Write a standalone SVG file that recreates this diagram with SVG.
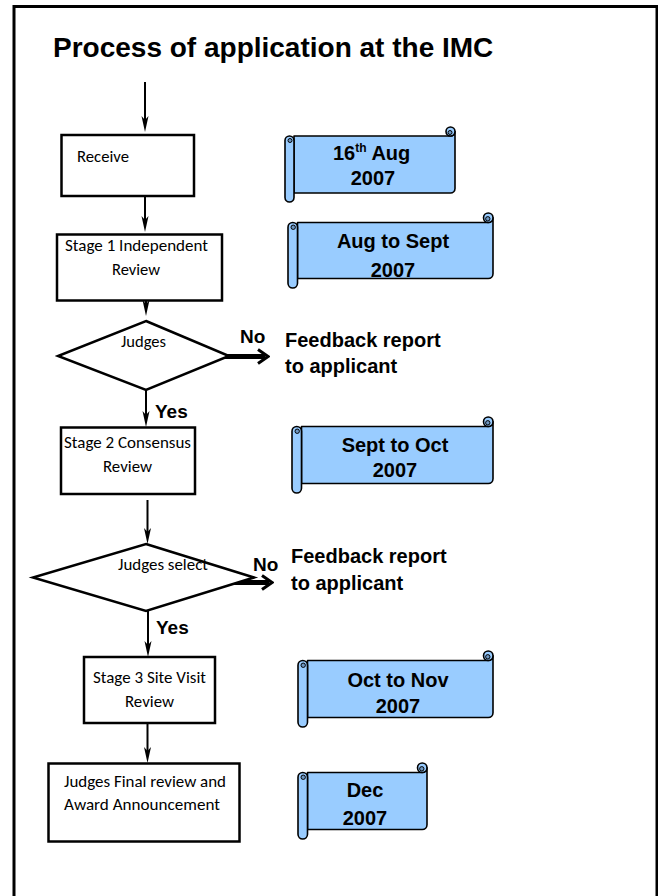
<svg xmlns="http://www.w3.org/2000/svg" width="658" height="896" viewBox="0 0 658 896">
<style>
.frame{fill:none;stroke:#000;stroke-width:3}
.box{fill:#fff;stroke:#000;stroke-width:2.5}
.dia{fill:#fff;stroke:#000;stroke-width:2.5;stroke-linejoin:miter}
.bt{font-family:Carlito,Lato,"Liberation Sans",sans-serif;font-size:16.5px;fill:#000}
.title{font-family:"Liberation Sans",Arial,sans-serif;font-weight:bold;font-size:28px;fill:#000}
.st{font-family:"Liberation Sans",Arial,sans-serif;font-weight:bold;font-size:20px;fill:#000;text-anchor:middle}
.fb{font-family:"Liberation Sans",Arial,sans-serif;font-weight:bold;font-size:20px;fill:#000}
.yn{font-family:"Liberation Sans",Arial,sans-serif;font-weight:bold;font-size:19px;fill:#000}
.scr{fill:#99ccff;stroke:#000;stroke-width:1.6;stroke-linejoin:round}
.curl{fill:#6f97c2;stroke:#000;stroke-width:1}
.thin{fill:none;stroke:#000;stroke-width:2;marker-end:url(#stealth)}
.thick{fill:none;stroke:#000;stroke-width:5;marker-end:url(#open)}
</style>
<defs>
<marker id="stealth" markerUnits="userSpaceOnUse" orient="auto" viewBox="-17 -5 18 10" markerWidth="18" markerHeight="10" refX="-10" refY="0">
<path d="M0 0 L-16 -3.5 L-12 0 L-16 3.5 Z" fill="#000"/>
</marker>
<marker id="open" markerUnits="userSpaceOnUse" orient="auto" viewBox="-13 -10 15 20" markerWidth="15" markerHeight="20" refX="-3" refY="0">
<path d="M-10 -7 L0 0 L-10 7" fill="none" stroke="#000" stroke-width="3"/>
</marker>
</defs>
<rect width="658" height="896" fill="#fff"/>
<rect class="frame" x="14" y="6.5" width="643" height="1000"/>
<text class="title" x="53" y="56.5">Process of application at the IMC</text>

<g id="connectors">
<line class="thin" x1="145" y1="82" x2="145" y2="122"/>
<line class="thin" x1="145" y1="196" x2="145" y2="222"/>
<line class="thin" x1="146" y1="298" x2="146" y2="306"/>
<line class="thin" x1="146" y1="390" x2="146" y2="417"/>
<line class="thin" x1="147.5" y1="500" x2="147.5" y2="534"/>
<line class="thin" x1="148" y1="611" x2="148" y2="647"/>
<line class="thin" x1="147.5" y1="723" x2="147.5" y2="753"/>
<line class="thick" x1="210" y1="356.5" x2="265" y2="356.5"/>
<line class="thick" x1="215" y1="582.5" x2="269" y2="582.5"/>
<text class="yn" x="240" y="343">No</text>
<text class="yn" x="155" y="418">Yes</text>
<text class="yn" x="253" y="571">No</text>
<text class="yn" x="156" y="634">Yes</text>
</g>

<g id="receive">
<rect class="box" x="61.5" y="135" width="132.5" height="61"/>
<text class="bt" x="77" y="162" textLength="52" lengthAdjust="spacingAndGlyphs">Receive</text>
</g>
<g id="stage1">
<rect class="box" x="57" y="234.5" width="165" height="66"/>
<text class="bt" x="65" y="251" textLength="143" lengthAdjust="spacingAndGlyphs">Stage 1 Independent</text>
<text class="bt" x="112" y="275" textLength="48" lengthAdjust="spacingAndGlyphs">Review</text>
</g>
<g id="judges1">
<polygon class="dia" points="146,321 229,356 146,390 58,356"/>
<text class="bt" x="121" y="346.5" textLength="45" lengthAdjust="spacingAndGlyphs">Judges</text>
</g>
<g id="feedback1">
<text class="fb" x="285" y="346.5">Feedback report</text>
<text class="fb" x="285" y="373">to applicant</text>
</g>
<g id="stage2">
<rect class="box" x="61" y="427.5" width="134" height="66.5"/>
<text class="bt" x="64" y="448" textLength="127" lengthAdjust="spacingAndGlyphs">Stage 2 Consensus</text>
<text class="bt" x="103" y="472" textLength="49" lengthAdjust="spacingAndGlyphs">Review</text>
</g>
<g id="judges2">
<polygon class="dia" points="146,544 254,577.5 146,611 33,577.5"/>
<text class="bt" x="118" y="570" textLength="90" lengthAdjust="spacingAndGlyphs">Judges select</text>
</g>
<g id="feedback2">
<text class="fb" x="291" y="563">Feedback report</text>
<text class="fb" x="291" y="590">to applicant</text>
</g>
<g id="stage3">
<rect class="box" x="84" y="657" width="131" height="66"/>
<text class="bt" x="93" y="683" textLength="113" lengthAdjust="spacingAndGlyphs">Stage 3 Site Visit</text>
<text class="bt" x="125" y="706.5" textLength="49" lengthAdjust="spacingAndGlyphs">Review</text>
</g>
<g id="final">
<rect class="box" x="48.5" y="763.5" width="191" height="78"/>
<text class="bt" x="64" y="786.5" textLength="162" lengthAdjust="spacingAndGlyphs">Judges Final review and</text>
<text class="bt" x="64" y="810" textLength="156" lengthAdjust="spacingAndGlyphs">Award Announcement</text>
</g>

<g id="scroll1">
<path class="scr" d="M294,136 H450.5 A4.5,4.5 0 0 0 455,131.5 V188.5 A4.5,4.5 0 0 1 450.5,193 H294 Z"/>
<circle class="scr" cx="450.5" cy="131.5" r="4.5"/>
<circle class="curl" cx="450" cy="132.5" r="2"/>
<path class="scr" d="M285,140.5 V197.5 A4.5,4.5 0 0 0 294,197.5 V140.5 A4.5,4.5 0 0 0 285,140.5 Z"/>
<circle class="curl" cx="290" cy="140.5" r="2"/>
<text class="fb" x="333" y="160">16<tspan font-size="12" dy="-8">th</tspan><tspan dy="8"> Aug</tspan></text>
<text class="st" x="373" y="185">2007</text>
</g>
<g id="scroll2">
<path class="scr" d="M297.5,222.5 H488.25 A4.75,4.75 0 0 0 493,217.75 V273.75 A4.75,4.75 0 0 1 488.25,278.5 H297.5 Z"/>
<circle class="scr" cx="488.25" cy="217.75" r="4.75"/>
<circle class="curl" cx="487.8" cy="218.8" r="2.2"/>
<path class="scr" d="M288,227.25 V283.25 A4.75,4.75 0 0 0 297.5,283.25 V227.25 A4.75,4.75 0 0 0 288,227.25 Z"/>
<circle class="curl" cx="293.2" cy="227.25" r="2.2"/>
<text class="st" x="393" y="248">Aug to Sept</text>
<text class="st" x="393" y="276.5">2007</text>
</g>
<g id="scroll3">
<path class="scr" d="M301.5,426.5 H488.25 A4.75,4.75 0 0 0 493,421.75 V478.75 A4.75,4.75 0 0 1 488.25,483.5 H301.5 Z"/>
<circle class="scr" cx="488.25" cy="421.75" r="4.75"/>
<circle class="curl" cx="487.8" cy="422.8" r="2.2"/>
<path class="scr" d="M292,431.25 V488.25 A4.75,4.75 0 0 0 301.5,488.25 V431.25 A4.75,4.75 0 0 0 292,431.25 Z"/>
<circle class="curl" cx="297.2" cy="431.25" r="2.2"/>
<text class="st" x="395" y="451.5">Sept to Oct</text>
<text class="st" x="395" y="476.5">2007</text>
</g>
<g id="scroll4">
<path class="scr" d="M307.5,660.5 H488.25 A4.75,4.75 0 0 0 493,655.75 V712.75 A4.75,4.75 0 0 1 488.25,717.5 H307.5 Z"/>
<circle class="scr" cx="488.25" cy="655.75" r="4.75"/>
<circle class="curl" cx="487.8" cy="656.8" r="2.2"/>
<path class="scr" d="M298,665.25 V722.25 A4.75,4.75 0 0 0 307.5,722.25 V665.25 A4.75,4.75 0 0 0 298,665.25 Z"/>
<circle class="curl" cx="303.2" cy="665.25" r="2.2"/>
<text class="st" x="398" y="686.5">Oct to Nov</text>
<text class="st" x="398" y="712.5">2007</text>
</g>
<g id="scroll5">
<path class="scr" d="M307.5,772.5 H422.25 A4.75,4.75 0 0 0 427,767.75 V824.75 A4.75,4.75 0 0 1 422.25,829.5 H307.5 Z"/>
<circle class="scr" cx="422.25" cy="767.75" r="4.75"/>
<circle class="curl" cx="421.8" cy="768.8" r="2.2"/>
<path class="scr" d="M298,777.25 V834.25 A4.75,4.75 0 0 0 307.5,834.25 V777.25 A4.75,4.75 0 0 0 298,777.25 Z"/>
<circle class="curl" cx="303.2" cy="777.25" r="2.2"/>
<text class="st" x="365" y="797">Dec</text>
<text class="st" x="365" y="825">2007</text>
</g>
</svg>
